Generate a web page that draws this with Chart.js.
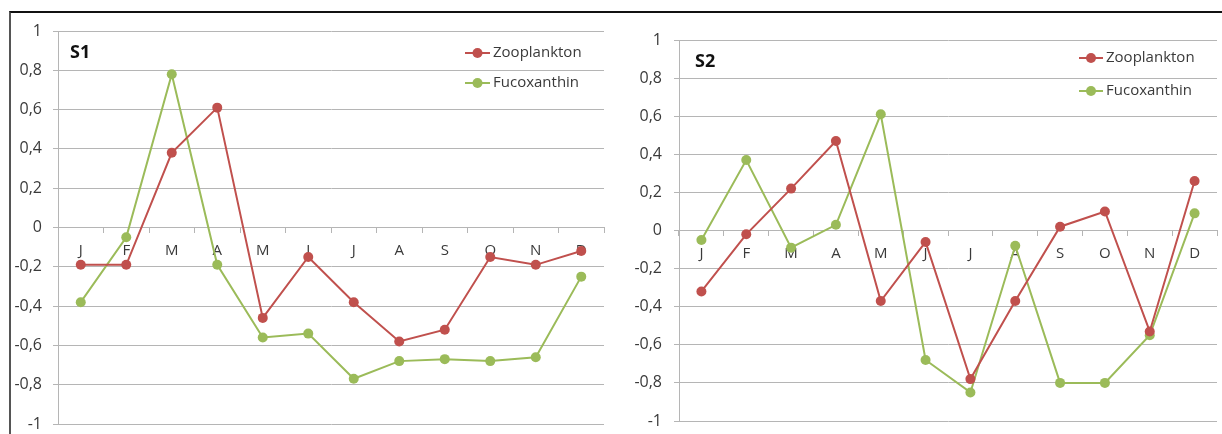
<!DOCTYPE html>
<html>
<head>
<meta charset="utf-8">
<script src="https://cdn.jsdelivr.net/npm/chart.js@4.4.1/dist/chart.umd.min.js"></script>
<style>
  html, body { margin: 0; padding: 0; background: #fff; }
  #wrap { position: relative; width: 1222px; height: 434px; overflow: hidden; background: #fff; }
  #frame { position: absolute; left: 9px; top: 11px; width: 1213px; height: 423px;
           border-top: 2px solid #111; border-left: 2px solid #555; box-sizing: border-box; }
  #c1 { position: absolute; left: 0; top: 0; }
  #c2 { position: absolute; left: 610px; top: 0; }
</style>
</head>
<body>
<div id="wrap">
  <div id="frame"></div>
  <canvas id="c1" width="610" height="434"></canvas>
  <canvas id="c2" width="612" height="434"></canvas>
</div>
<script>
const months = ['J','F','M','A','M','J','J','A','S','O','N','D'];
const yTickLabels = ['-1','-0,8','-0,6','-0,4','-0,2','0','0,2','0,4','0,6','0,8','1'];
const seriesNames = ['Zooplankton', 'Fucoxanthin'];
const panelTitles = ['S1', 'S2'];

const s1Zooplankton = [-0.19, -0.19, 0.38, 0.61, -0.46, -0.15, -0.38, -0.58, -0.52, -0.15, -0.19, -0.12];
const s1Fucoxanthin = [-0.38, -0.05, 0.78, -0.19, -0.56, -0.54, -0.77, -0.68, -0.67, -0.68, -0.66, -0.25];
const s2Zooplankton = [-0.32, -0.02, 0.22, 0.47, -0.37, -0.06, -0.78, -0.37, 0.02, 0.10, -0.53, 0.26];
const s2Fucoxanthin = [-0.05, 0.37, -0.09, 0.03, 0.61, -0.68, -0.85, -0.08, -0.80, -0.80, -0.55, 0.09];

const RED = '#C0504D';
const GREEN = '#9BBB59';
const GRID = '#b5b5b5';
const TEXT = '#3a3a3a';
const FONT = '"Open Sans", "DejaVu Sans", sans-serif';

const insideLegend = {
  id: 'insideLegend',
  afterDraw(chart, args, opts) {
    const ctx = chart.ctx;
    ctx.save();
    chart.data.datasets.forEach((ds, i) => {
      const y = opts.y + i * opts.dy;
      ctx.strokeStyle = ds.borderColor;
      ctx.lineWidth = 2;
      ctx.beginPath();
      ctx.moveTo(opts.x, y);
      ctx.lineTo(opts.x + opts.w, y);
      ctx.stroke();
      ctx.fillStyle = ds.pointBackgroundColor;
      ctx.beginPath();
      ctx.arc(opts.x + opts.w / 2, y, 5, 0, Math.PI * 2);
      ctx.fill();
      ctx.fillStyle = TEXT;
      ctx.font = '15px ' + FONT;
      ctx.textBaseline = 'middle';
      ctx.textAlign = 'left';
      ctx.fillText(ds.label, opts.x + opts.w + 3, y);
    });
    ctx.fillStyle = '#111';
    ctx.font = 'bold 18px ' + FONT;
    ctx.textBaseline = 'middle';
    ctx.textAlign = 'left';
    ctx.fillText(opts.title, opts.tx, opts.ty);
    ctx.restore();
  }
};

function makeChart(id, zoo, fuco, title, cfg) {
  return new Chart(document.getElementById(id), {
    type: 'line',
    data: {
      labels: months,
      datasets: [
        { label: seriesNames[0], data: zoo, borderColor: RED, backgroundColor: RED,
          pointBackgroundColor: RED, pointBorderColor: RED, pointRadius: 5, pointBorderWidth: 0,
          borderWidth: 2, tension: 0, fill: false },
        { label: seriesNames[1], data: fuco, borderColor: GREEN, backgroundColor: GREEN,
          pointBackgroundColor: GREEN, pointBorderColor: GREEN, pointRadius: 5, pointBorderWidth: 0,
          borderWidth: 2, tension: 0, fill: false }
      ]
    },
    options: {
      responsive: false,
      animation: false,
      devicePixelRatio: 1,
      layout: { padding: cfg.padding },
      plugins: {
        legend: { display: false },
        tooltip: { enabled: false },
        insideLegend: Object.assign({ title: title }, cfg.legend)
      },
      scales: {
        x: {
          type: 'category',
          position: { y: 0 },
          offset: true,
          grid: { display: true, drawOnChartArea: false, drawTicks: true, tickLength: 5,
                  offset: true, color: GRID },
          border: { display: true, color: GRID },
          ticks: { color: TEXT, font: { family: FONT, size: 15 }, padding: cfg.xPad,
                   maxRotation: 0, autoSkip: false }
        },
        y: {
          min: -1, max: 1,
          grid: { color: GRID, tickLength: 5 },
          border: { display: true, color: GRID },
          afterFit(scale) { scale.width = cfg.yWidth; scale.paddingTop = 0; scale.paddingBottom = 0; },
          ticks: {
            stepSize: 0.2,
            color: TEXT,
            font: { family: FONT, size: 16 },
            padding: cfg.yPad,
            callback: (v, i) => yTickLabels[i]
          }
        }
      }
    },
    plugins: [insideLegend]
  });
}

makeChart('c1', s1Zooplankton, s1Fucoxanthin, panelTitles[0], {
  padding: { left: 12, right: 6, top: 31, bottom: 10 },
  yWidth: 46, yPad: 11, xPad: 9,
  legend: { x: 465, w: 25, y: 53, dy: 30, tx: 70, ty: 53 }
});
makeChart('c2', s2Zooplankton, s2Fucoxanthin, panelTitles[1], {
  padding: { left: 17, right: 0, top: 40, bottom: 13 },
  yWidth: 52, yPad: 12, xPad: 9,
  legend: { x: 469, w: 24, y: 58, dy: 33, tx: 85, ty: 62 }
});
</script>
</body>
</html>
